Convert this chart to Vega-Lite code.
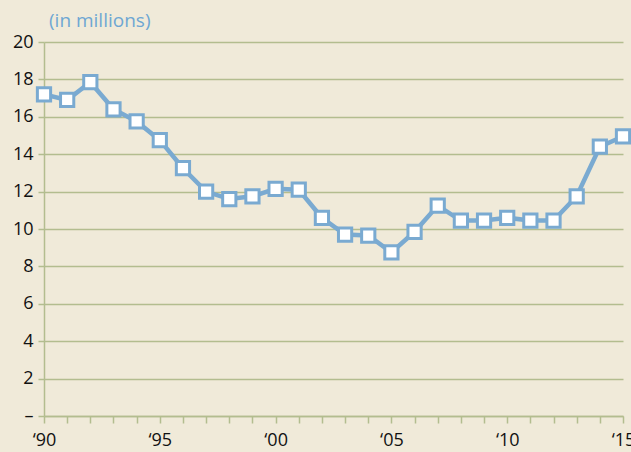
{
  "$schema": "https://vega.github.io/schema/vega-lite/v6.json",
  "width": 579,
  "height": 374,
  "autosize": {"type": "none"},
  "padding": {"left": 44, "top": 42, "right": 8, "bottom": 36},
  "background": "#f0ead9",
  "config": {
    "view": {"stroke": null},
    "font": "Open Sans"
  },
  "title": {
    "text": "(in millions)",
    "anchor": "start",
    "frame": "group",
    "dx": 5,
    "offset": 2,
    "fontSize": 19,
    "fontWeight": "normal",
    "color": "#6ea7d3",
    "font": "Open Sans"
  },
  "data": {
    "values": [
      {"year": 1990, "value": 17.2},
      {"year": 1991, "value": 16.9},
      {"year": 1992, "value": 17.85},
      {"year": 1993, "value": 16.4},
      {"year": 1994, "value": 15.75},
      {"year": 1995, "value": 14.75},
      {"year": 1996, "value": 13.25},
      {"year": 1997, "value": 12.0},
      {"year": 1998, "value": 11.6},
      {"year": 1999, "value": 11.75},
      {"year": 2000, "value": 12.15},
      {"year": 2001, "value": 12.1},
      {"year": 2002, "value": 10.6},
      {"year": 2003, "value": 9.7},
      {"year": 2004, "value": 9.65},
      {"year": 2005, "value": 8.75},
      {"year": 2006, "value": 9.85},
      {"year": 2007, "value": 11.25},
      {"year": 2008, "value": 10.45},
      {"year": 2009, "value": 10.45},
      {"year": 2010, "value": 10.6},
      {"year": 2011, "value": 10.45},
      {"year": 2012, "value": 10.45},
      {"year": 2013, "value": 11.75},
      {"year": 2014, "value": 14.4},
      {"year": 2015, "value": 14.95}
    ]
  },
  "encoding": {
    "x": {
      "field": "year",
      "type": "quantitative",
      "scale": {"domain": [1990, 2015], "nice": false, "zero": false},
      "axis": {
        "title": null,
        "values": [1990,1991,1992,1993,1994,1995,1996,1997,1998,1999,2000,2001,2002,2003,2004,2005,2006,2007,2008,2009,2010,2011,2012,2013,2014,2015],
        "labelExpr": "datum.value % 5 == 0 ? '‘' + slice(toString(datum.value), 2) : ''",
        "grid": false,
        "domainColor": "#b3bd8f",
        "domainWidth": 1.5,
        "tickColor": "#b3bd8f",
        "tickWidth": 1.5,
        "tickSize": 7,
        "labelPadding": 8,
        "labelFontSize": 18,
        "labelColor": "#111111",
        "labelFont": "Open Sans",
        "labelOverlap": false,
        "labelFlush": false,
        "labelBound": false
      }
    },
    "y": {
      "field": "value",
      "type": "quantitative",
      "scale": {"domain": [0, 20], "nice": false},
      "axis": {
        "title": null,
        "values": [0,2,4,6,8,10,12,14,16,18,20],
        "labelExpr": "datum.value == 0 ? '–' : datum.label",
        "grid": true,
        "gridColor": "#b3bd8f",
        "gridWidth": 1.5,
        "domainColor": "#b3bd8f",
        "domainWidth": 1.5,
        "tickColor": "#b3bd8f",
        "tickWidth": 1.5,
        "tickSize": 6,
        "labelPadding": 5,
        "labelFontSize": 18,
        "labelColor": "#111111",
        "labelFont": "Open Sans",
        "labelFlush": false,
        "labelBound": false
      }
    }
  },
  "layer": [
    {
      "mark": {"type": "line", "color": "#7aaad1", "strokeWidth": 4.5}
    },
    {
      "mark": {"type": "point", "shape": "square", "filled": true, "fill": "white", "stroke": "#7aaad1", "strokeWidth": 3, "size": 175, "opacity": 1}
    }
  ]
}
